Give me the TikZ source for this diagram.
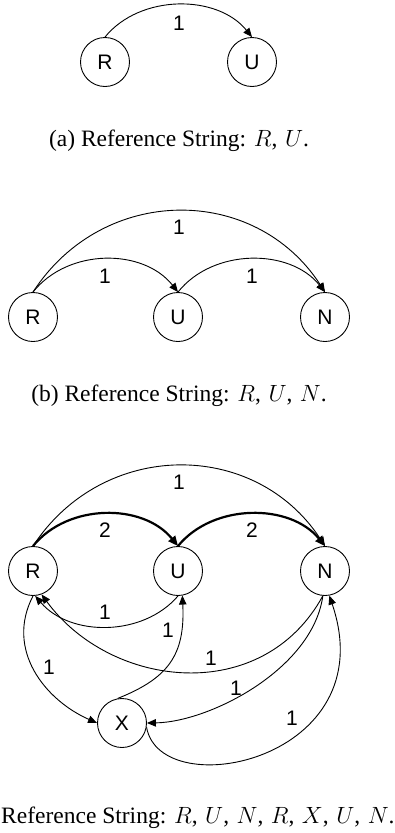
\documentclass[tikz,border=0pt]{standalone}
\usepackage{fix-cm}
\usepackage{fontspec}
\setmainfont{Liberation Serif}
\setsansfont{Liberation Sans}
\usetikzlibrary{arrows.meta}
\newcommand{\rsep}{,\hspace{7.5pt}}
\tikzset{
  state/.style={circle, draw, line width=0.9pt, minimum size=49pt, inner sep=0pt,
    font=\sffamily\fontsize{21}{22}\selectfont},
  lbl/.style={font=\sffamily\fontsize{21}{22}\selectfont, inner sep=0pt},
  edge/.style={line width=0.9pt, -{Triangle[length=9pt,width=7.5pt]}},
  thickedge/.style={line width=2.2pt, -{Triangle[length=10pt,width=8.5pt]}},
  captext/.style={font=\fontsize{23.5}{28}\selectfont, inner sep=0pt},
}
\begin{document}
\begin{tikzpicture}[x=1pt,y=-1pt]
\useasboundingbox (0,0) rectangle (394,833);
% ---------- (a)
\node[state] (Ra) at (105,62) {R};
\node[state] (Ua) at (252,62) {U};
\draw[edge] (Ra.north) .. controls +(35,-43) and +(-35,-43) .. (Ua.north);
\node[lbl] (la1) at (179,23) {1};
\node[captext, anchor=base] (capa) at (179,146) {(a) Reference String: $R$\rsep$U$.};
% ---------- (b)
\node[state] (Rb) at (33,317) {R};
\node[state] (Ub) at (178,317) {U};
\node[state] (Nb) at (325,317) {N};
\draw[edge] (Rb.north) .. controls +(35,-44) and +(-35,-44) .. (Ub.north);
\draw[edge] (Ub.north) .. controls +(35,-44) and +(-35,-44) .. (Nb.north);
\draw[edge] (Rb.north) .. controls +(70,-108) and +(-70,-108) .. (Nb.north);
\node[lbl] (lb1) at (105,276) {1};
\node[lbl] (lb2) at (252,276) {1};
\node[lbl] (lb3) at (179,227) {1};
\node[captext, anchor=base] (capb) at (179,401) {(b) Reference String: $R$\rsep$U$\rsep$N$.};
% ---------- (c)
\node[state] (Rc) at (33,571) {R};
\node[state] (Uc) at (178,571) {U};
\node[state] (Nc) at (325,571) {N};
\node[state] (Xc) at (122,723) {X};
\draw[edge] (Rc.north) .. controls +(70,-107) and +(-70,-107) .. (Nc.north);
\draw[thickedge] (Rc.north) .. controls +(35,-43) and +(-35,-43) .. (Uc.north);
\draw[thickedge] (Uc.north) .. controls +(35,-43) and +(-35,-43) .. (Nc.north);
\draw[edge] (Uc.south) .. controls +(-35,41) and +(35,41) .. (Rc.-85);
\draw[edge] (Nc.-95) .. controls +(-60,110) and +(70,95) .. (Rc.-70);
\draw[edge] (Nc.-95) .. controls +(-10,73) and +(63,-1) .. (Xc.east);
\draw[edge] (Xc.-10) .. controls +(14,78) and +(56,165) .. (Nc.-80);
\draw[edge] (Xc.100) .. controls +(50,-20) and +(3,60) .. (Uc.-80);
\draw[edge] (Rc.south) .. controls +(-28,54) and +(-52,-23) .. (Xc.west);
\node[lbl] (lc1) at (179,482) {1};
\node[lbl] (lc2) at (105,530) {2};
\node[lbl] (lc3) at (252,530) {2};
\node[lbl] (lc4) at (105,612) {1};
\node[lbl] (lc5) at (168,630) {1};
\node[lbl] (lc6) at (49,667) {1};
\node[lbl] (lc7) at (211,658) {1};
\node[lbl] (lc8) at (236,688) {1};
\node[lbl] (lc9) at (292,718) {1};
\node[captext, anchor=base west] (capc) at (1,823) {Reference String: $R$\rsep$U$\rsep$N$\rsep$R$\rsep$X$\rsep$U$\rsep$N$.};
\end{tikzpicture}
\end{document}
